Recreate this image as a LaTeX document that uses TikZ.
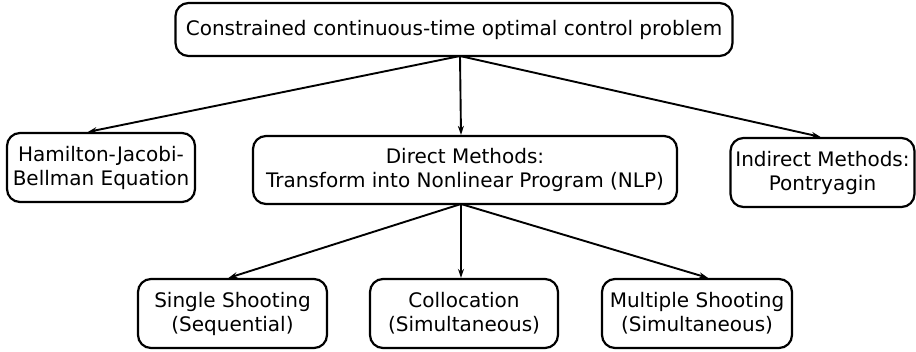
\documentclass[tikz,border=0pt]{standalone}
\usepackage{fontspec}
\setmainfont{DejaVu Sans}
\usetikzlibrary{arrows.meta,calc}
\begin{document}
\begin{tikzpicture}[x=1pt,y=-1pt,
  box/.style={draw, line width=2.2pt, rounded corners=13pt, align=center,
    inner sep=1pt, font=\fontsize{20}{24}\selectfont},
  arr/.style={line width=1.9pt, -{Stealth[length=9pt,width=6pt]}}]
\useasboundingbox (0,0) rectangle (916,351);
\node[box, minimum width=557pt, minimum height=53pt] (top) at (454,29.5) {Constrained continuous-time optimal control problem};
\node[box, minimum width=188pt, minimum height=69pt] (ham) at (101,167.5) {Hamilton-Jacobi-\\Bellman Equation};
\node[box, minimum width=424pt, minimum height=68pt] (dir) at (465,170) {Direct Methods:\\Transform into Nonlinear Program (NLP)};
\node[box, minimum width=184pt, minimum height=69pt] (ind) at (822.5,172.5) {Indirect Methods:\\Pontryagin};
\node[box, minimum width=189pt, minimum height=69pt] (ss) at (232.5,313.5) {Single Shooting\\(Sequential)};
\node[box, minimum width=188pt, minimum height=69pt] (col) at (464,313.5) {Collocation\\(Simultaneous)};
\node[box, minimum width=190pt, minimum height=69pt] (ms) at (697,313.5) {Multiple Shooting\\(Simultaneous)};
\coordinate (ts) at (460,56);
\coordinate (ds) at (461,204);
\draw[arr] (ts) -- ([xshift=-13pt]ham.north);
\draw[arr] (ts) -- ([xshift=-4pt]dir.north);
\draw[arr] (ts) -- ([xshift=-2pt]ind.north);
\draw[arr] (ds) -- ([xshift=-4pt]ss.north);
\draw[arr] (ds) -- ([xshift=-3pt]col.north);
\draw[arr] (ds) -- ([xshift=11pt]ms.north);
\end{tikzpicture}
\end{document}
